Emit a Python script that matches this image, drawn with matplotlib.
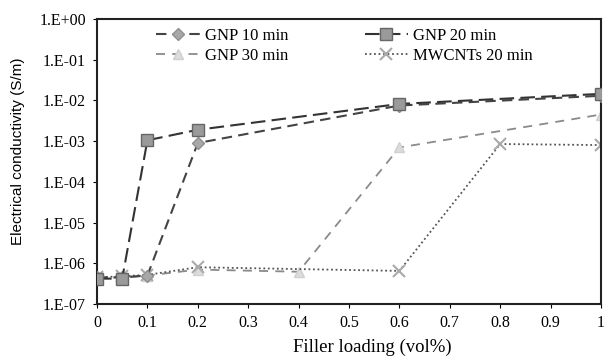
import matplotlib
matplotlib.use("Agg")
import matplotlib.pyplot as plt
from matplotlib.ticker import FixedLocator, FixedFormatter

plt.rcParams['font.family'] = ['Liberation Serif', 'DejaVu Serif']

# Filler loading (vol%) and electrical conductivity (S/m)
x_gnp10 = [0, 0.05, 0.1, 0.2, 0.6, 1.0]
y_gnp10 = [4.5e-7, 4.5e-7, 5e-7, 9e-4, 7.5e-3, 1.3e-2]

x_gnp20 = [0, 0.05, 0.1, 0.2, 0.6, 1.0]
y_gnp20 = [4.2e-7, 4.2e-7, 1.05e-3, 1.9e-3, 8.2e-3, 1.45e-2]

x_gnp30 = [0, 0.05, 0.1, 0.2, 0.4, 0.6, 1.0]
y_gnp30 = [4.5e-7, 4.5e-7, 5e-7, 7e-7, 6.2e-7, 7e-4, 4.5e-3]

x_mwcnt = [0, 0.05, 0.1, 0.2, 0.6, 0.8, 1.0]
y_mwcnt = [4.5e-7, 4.8e-7, 5.2e-7, 8e-7, 6.5e-7, 8.5e-4, 8e-4]

x_ticks = [0, 0.1, 0.2, 0.3, 0.4, 0.5, 0.6, 0.7, 0.8, 0.9, 1]
x_labels = ['0', '0.1', '0.2', '0.3', '0.4', '0.5', '0.6', '0.7', '0.8', '0.9', '1']
y_ticks = [1e-7, 1e-6, 1e-5, 1e-4, 1e-3, 1e-2, 1e-1, 1e0]
y_labels = ['1.E-07', '1.E-06', '1.E-05', '1.E-04', '1.E-03', '1.E-02', '1.E-01', '1.E+00']

fig = plt.figure(figsize=(6.04, 3.58), dpi=100)
ax = fig.add_axes([97 / 604, 54 / 358, 504 / 604, 285 / 358])

l10, = ax.plot(x_gnp10, y_gnp10, color='#444444', lw=1.5, dashes=(5, 3),
               marker='D', ms=6, mfc='#a8a8a8', mec='#909090', label='GNP 10 min', zorder=3)
l30, = ax.plot(x_gnp30, y_gnp30, color='#8a8a8a', lw=1.3, dashes=(5, 4),
               marker='^', ms=7, mfc='#dcdcdc', mec='#d0d0d0', label='GNP 30 min', zorder=2)
lmw, = ax.plot(x_mwcnt, y_mwcnt, color='#555555', lw=1.3, linestyle=(0, (1, 1.5)),
               marker='x', ms=8, mew=1.5, mec='#aaaaaa', label='MWCNTs 20 min', zorder=2)
l20, = ax.plot(x_gnp20, y_gnp20, color='#333333', lw=1.5, dashes=(7, 3),
               marker='s', ms=8, mfc='#9a9a9a', mec='#666666', label='GNP 20 min', zorder=4)

ax.set_yscale('log')
ax.set_xlim(0, 1)
ax.set_ylim(1e-7, 1e0)
ax.xaxis.set_major_locator(FixedLocator(x_ticks))
ax.xaxis.set_major_formatter(FixedFormatter(x_labels))
ax.yaxis.set_major_locator(FixedLocator(y_ticks))
ax.yaxis.set_major_formatter(FixedFormatter(y_labels))
ax.yaxis.set_minor_locator(FixedLocator([]))
ax.tick_params(axis='both', direction='out', length=3, width=0.8, labelsize=11.5, pad=5)

for s in ax.spines.values():
    s.set_linewidth(1.5)
    s.set_color('#222222')

fig.text(372 / 604, 1 - 347 / 358, 'Filler loading (vol%)', fontsize=13.5,
         ha='center', va='center')
fig.text(18 / 604, 1 - 151 / 358, 'Electrical conductivity (S/m)', fontsize=11,
         family=['Liberation Sans', 'DejaVu Sans'], rotation=90,
         ha='center', va='center')

fig.legend(handles=[l10, l30, l20, lmw], ncol=2, frameon=False,
           loc='upper left', bbox_to_anchor=(148 / 604, 1 - 20 / 358),
           fontsize=12, handlelength=2.6, handletextpad=0.3, columnspacing=4.6,
           borderpad=0, labelspacing=0.2)

fig.savefig('out.png', dpi=100)
